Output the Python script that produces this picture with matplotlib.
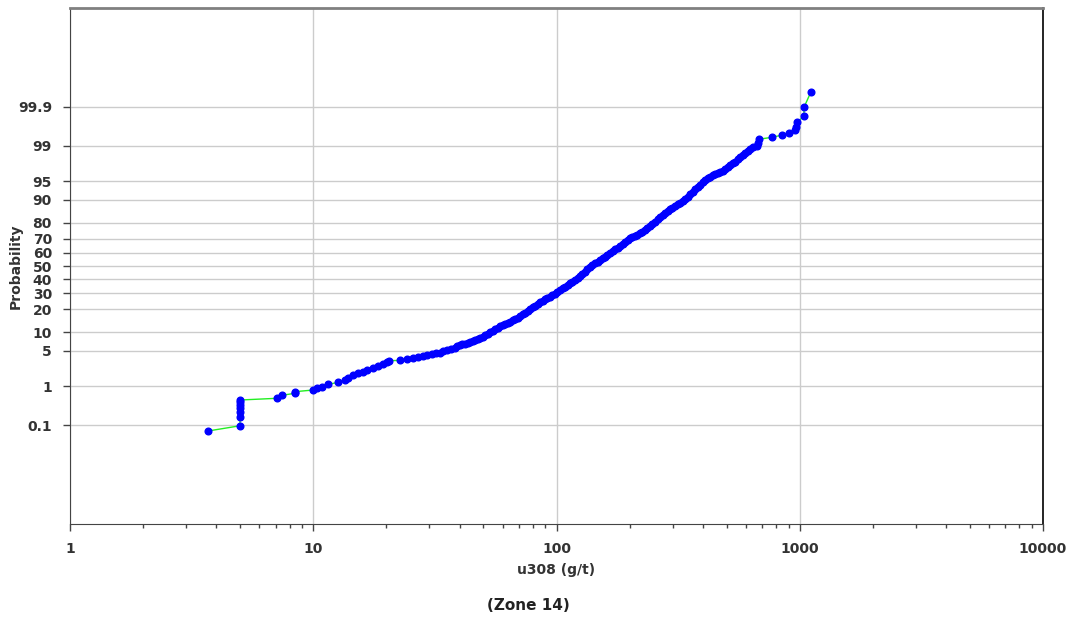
import math
from statistics import NormalDist

import matplotlib

matplotlib.use("Agg")
import matplotlib.pyplot as plt
import numpy as np
from matplotlib.ticker import FixedLocator, LogLocator, NullFormatter

# Sorted u308 grades (g/t)
grade = [
    3.68, 5.0, 5.0, 5.0, 5.0, 5.0, 5.0, 5.0, 7.07, 7.42, 8.41, 8.41,
    10.0, 10.33, 10.83, 11.53, 12.68, 13.51, 13.94, 14.61, 15.32, 16.06,
    16.59, 17.65, 18.51, 19.30, 20.04, 20.54, 22.73, 24.23, 25.78, 27.03,
    28.34, 29.49, 30.69, 31.92, 33.19, 34.27, 35.38, 36.79, 38.25, 39.17,
    40.11, 41.07, 42.06, 43.07, 44.10, 45.16, 46.24, 47.35, 48.48, 49.64,
    50.83, 52.05, 53.30, 54.58, 55.88, 57.22, 58.59, 60.0, 61.43, 62.90,
    64.41, 65.95, 67.53, 69.15, 70.79, 72.49, 74.23, 76.01, 77.83, 79.70,
    81.59, 83.55, 85.55, 87.60, 89.68, 91.83, 94.03, 96.28, 98.58, 100.9,
    103.4, 105.9, 108.4, 111.0, 113.6, 116.3, 119.2, 122.1, 124.9, 127.9,
    131.0, 134.1, 137.3, 140.6, 144.0, 147.5, 151.0, 154.6, 158.2, 162.0,
    166.0, 170.0, 174.0, 178.2, 182.4, 186.8, 191.3, 195.9, 200.5, 205.3,
    210.2, 215.2, 220.4, 225.7, 231.1, 236.6, 242.3, 248.1, 254.1, 260.2,
    266.4, 272.8, 279.3, 286.0, 292.8, 299.8, 307.0, 314.4, 321.9, 329.6,
    337.6, 345.7, 353.9, 362.4, 371.1, 380.0, 389.0, 398.3, 407.9, 417.7,
    427.6, 437.9, 448.4, 459.1, 470.1, 481.4, 492.9, 504.7, 516.8, 529.2,
    541.9, 554.9, 568.1, 581.7, 595.6, 609.9, 624.5, 644.3, 665.5, 673.7,
    680.1, 771.3, 843.3, 906.0, 956.1, 965.2, 977.2, 1041, 1041, 1112,
]

# Cumulative probability (%) for each grade above
prob = [
    0.069, 0.098, 0.174, 0.237, 0.291, 0.353, 0.427, 0.470, 0.517, 0.610,
    0.681, 0.743, 0.813, 0.889, 0.967, 1.093, 1.21, 1.36, 1.48, 1.73, 1.88,
    1.97, 2.19, 2.37, 2.63, 2.84, 3.10, 3.33, 3.36, 3.58, 3.78, 3.92,
    4.06, 4.20, 4.35, 4.50, 4.65, 4.91, 5.18, 5.42, 5.67, 6.01,
    6.36, 6.48, 6.60, 6.78, 6.96, 7.22, 7.49, 7.77, 8.06, 8.50,
    8.96, 9.44, 9.94, 10.45, 11.0, 11.55, 12.1, 12.58, 13.05, 13.54,
    14.03, 14.55, 15.08, 15.85, 16.63, 17.44, 18.27, 19.16, 20.07, 21.07,
    22.09, 23.08, 24.1, 25.09, 26.1, 26.85, 27.6, 28.38, 29.2, 30.62,
    32.1, 33.25, 34.4, 35.64, 36.9, 38.10, 39.3, 40.81, 42.3, 43.96,
    45.6, 47.31, 49.0, 50.54, 52.1, 53.34, 54.6, 55.88, 57.2, 58.44,
    59.7, 61.22, 62.7, 63.91, 65.1, 66.41, 67.7, 69.08, 70.4, 71.29,
    72.1, 72.92, 73.7, 74.74, 75.7, 76.93, 78.1, 79.30, 80.5, 81.78,
    83.0, 83.98, 84.9, 85.68, 86.4, 87.10, 87.8, 88.39, 89.0, 89.62,
    90.2, 91.05, 91.85, 92.52, 93.14, 93.73, 94.28, 94.78, 95.22, 95.53,
    95.83, 96.05, 96.27, 96.45, 96.62, 96.78, 96.95, 97.23, 97.48, 97.67,
    97.84, 98.05, 98.24, 98.40, 98.55, 98.70, 98.83, 98.96, 99.02, 99.16,
    99.30, 99.37, 99.44, 99.51, 99.58, 99.65, 99.73, 99.82, 99.895, 99.963,
]

prob_ticks = [0.1, 1, 5, 10, 20, 30, 40, 50, 60, 70, 80, 90, 95, 99, 99.9]
prob_labels = ["0.1", "1", "5", "10", "20", "30", "40", "50", "60", "70",
               "80", "90", "95", "99", "99.9"]
x_ticks = [1, 10, 100, 1000, 10000]
x_labels = ["1", "10", "100", "1000", "10000"]

_nd = NormalDist()
_ppf = np.vectorize(lambda p: _nd.inv_cdf(min(max(p / 100.0, 1e-12), 1 - 1e-12)),
                    otypes=[float])
_cdf = np.vectorize(lambda z: 50.0 * (1.0 + math.erf(z / math.sqrt(2.0))),
                    otypes=[float])


def forward(p):
    return _ppf(np.asarray(p, dtype=float))


def inverse(z):
    return _cdf(np.asarray(z, dtype=float))


text_col = "#333333"
plt.rcParams["font.family"] = ["DejaVu Sans"]

fig = plt.figure(figsize=(10.78, 6.21), dpi=100)
ax = fig.add_axes([70 / 1078, 1 - 524 / 621, (1043 - 70) / 1078, (524 - 8) / 621])

ax.set_xscale("log")
ax.set_yscale("function", functions=(forward, inverse))
ax.set_xlim(1, 10000)
ax.set_ylim(float(_cdf(-5.0)), float(_cdf(5.0)))

ax.plot(grade, prob, color="#22ee22", lw=1, zorder=3)
ax.plot(grade, prob, "o", color="#0000ff", ms=4.8, mec="#0000ff", zorder=4)

ax.yaxis.set_major_locator(FixedLocator(prob_ticks))
ax.set_yticklabels(prob_labels)
ax.yaxis.set_minor_locator(FixedLocator([]))
ax.xaxis.set_major_locator(FixedLocator(x_ticks))
ax.set_xticklabels(x_labels)
ax.xaxis.set_minor_locator(LogLocator(base=10, subs=np.arange(2, 10)))
ax.xaxis.set_minor_formatter(NullFormatter())

ax.grid(True, which="major", color="#cccccc", lw=1, zorder=0)
ax.set_axisbelow(True)

ax.tick_params(axis="both", which="major", direction="out", length=5, width=1,
               color="#444444", labelsize=10, labelcolor=text_col, pad=8)
ax.tick_params(axis="x", which="minor", direction="out", length=3, width=1,
               color="#444444")
for lab in ax.get_xticklabels() + ax.get_yticklabels():
    lab.set_fontweight("bold")

ax.spines["left"].set_color("#444444")
ax.spines["bottom"].set_color("#444444")
ax.spines["top"].set_color("#808080")
ax.spines["top"].set_linewidth(2)
ax.spines["right"].set_color("#000000")
ax.spines["right"].set_linewidth(1.2)

ax.set_xlabel("u308 (g/t)", fontsize=10, fontweight="bold", color=text_col, labelpad=5)
ax.set_ylabel("Probability", fontsize=10, fontweight="bold", color=text_col)
ax.yaxis.set_label_coords(-0.049, 0.5)
fig.text(528 / 1078, 1 - 606 / 621, "(Zone 14)", ha="center", va="center",
         fontsize=11, fontweight="bold", color="#222222")

fig.savefig("out.png", dpi=100)
